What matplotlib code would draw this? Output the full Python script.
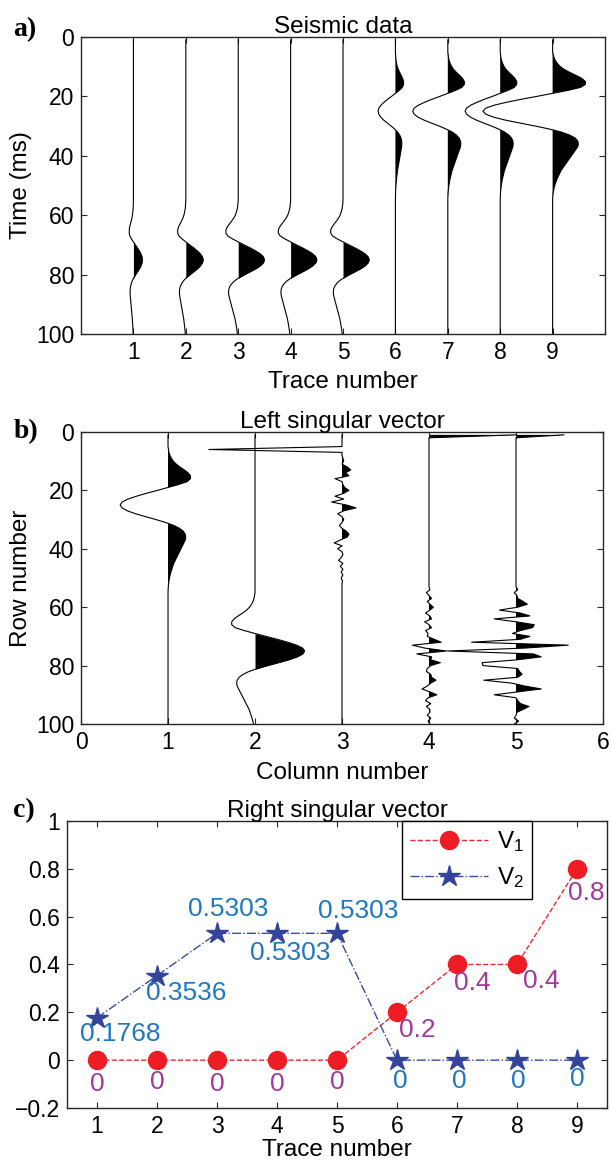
import numpy as np
import matplotlib.pyplot as plt

plt.rcParams['font.family'] = ['Liberation Sans', 'DejaVu Sans']
plt.rcParams['mathtext.fontset'] = 'custom'
plt.rcParams['mathtext.rm'] = 'Liberation Sans'
plt.rcParams['axes.edgecolor'] = '#262626'
plt.rcParams['xtick.color'] = '#262626'
plt.rcParams['ytick.color'] = '#262626'

rows = np.arange(1, 101)  # sample index = time in ms / row number

# source wavelet, 1 ms steps, peak at lag 0
wavelet_lag = np.arange(-20, 31)
wavelet = [0.0, -0.01, -0.02, -0.04, -0.07, -0.11, -0.17, -0.25, -0.34, -0.42,
           -0.47, -0.47, -0.40, -0.22, 0.0, 0.22, 0.45, 0.66, 0.84, 0.96,
           1.0,
           0.96, 0.85, 0.68, 0.47, 0.25, 0.05, -0.12, -0.24, -0.32, -0.36,
           -0.37, -0.36, -0.33, -0.30, -0.27, -0.24, -0.21, -0.18, -0.15, -0.12,
           -0.10, -0.08, -0.06, -0.045, -0.03, -0.02, -0.012, -0.006, -0.002, 0.0]

# a) seismic data: two events
trace_numbers = np.arange(1, 10)
late_event_ms = 75
early_event_ms = 25
late_amp = [0.17, 0.33, 0.50, 0.50, 0.50, 0, 0, 0, 0]
early_amp = [0, 0, 0, 0, 0, -0.33, -0.67, -0.67, -1.33]

# b) left singular vectors
column_numbers = np.arange(1, 6)
u1_amp = -0.55   # event at 25
u2_amp = 0.57    # event at 75
u3_spike_row, u3_spike = 6, -1.53
u3_noise_rows = np.arange(7, 53)
u3_noise = [0.0, 0.0, 0.01, 0.02, 0.0, 0.06, 0.10, 0.04, 0.08, -0.08,
            0.0, 0.01, 0.03, 0.08, 0.02, -0.08, 0.02, -0.12, 0.05, 0.16,
            0.02, -0.05, 0.0, 0.02, 0.0, -0.03, 0.0, 0.05, 0.08, 0.06,
            -0.02, -0.09, 0.0, -0.05, 0.0, 0.01, -0.01, -0.04, 0.01, -0.02,
            0.01, -0.01, 0.01, -0.01, 0.005, 0.0]
u4_spike_row, u4_spike = 1, 1.0
u4_noise_rows = np.arange(53, 101)
u4_noise = [0.0, 0.01, -0.03, 0.0, 0.03, -0.02, 0.01, 0.05, 0.01, -0.04,
            0.01, 0.03, -0.05, 0.0, 0.03, -0.04, -0.01, -0.02, 0.06, 0.14,
            -0.19, -0.05, 0.20, -0.14, 0.03, 0.02, 0.13, 0.02, -0.02, -0.03,
            0.02, 0.03, 0.08, 0.02, -0.02, -0.08, 0.01, 0.09, -0.01, -0.04,
            0.02, -0.03, 0.01, 0.01, -0.02, 0.02, -0.01, 0.01]
u5_spike_row, u5_spike = 1, 0.55
u5_noise_rows = np.arange(53, 101)
u5_noise = [0.0, 0.02, -0.02, 0.01, 0.02, 0.08, 0.13, 0.02, -0.19, 0.05,
            0.16, -0.25, 0.0, 0.21, 0.19, 0.05, -0.04, 0.16, 0.05, -0.51,
            0.60, 0.10, -0.79, 0.20, 0.29, 0.02, -0.39, -0.38, 0.02, 0.04,
            0.07, 0.02, -0.37, -0.05, 0.10, 0.29, 0.02, -0.25, 0.0, 0.02,
            0.05, 0.15, 0.08, 0.01, 0.0, -0.02, 0.03, -0.02]

# c) right singular vectors
v1 = [0, 0, 0, 0, 0, 0.2, 0.4, 0.4, 0.8]
v2 = [0.1768, 0.3536, 0.5303, 0.5303, 0.5303, 0, 0, 0, 0]
v1_text = ['0', '0', '0', '0', '0', '0.2', '0.4', '0.4', '0.8']
v2_text = ['0.1768', '0.3536', '0.5303', '0.5303', '0.5303', '0', '0', '0', '0']
ytick_vals = [-0.2, 0, 0.2, 0.4, 0.6, 0.8, 1]
ytick_text = ['\u22120.2', '0', '0.2', '0.4', '0.6', '0.8', '1']

# label offsets (data units) for the value annotations
v1_off = [(0, -0.10), (0, -0.09), (0, -0.10), (0, -0.10), (0, -0.09),
          (0.34, -0.072), (0.26, -0.076), (0.41, -0.068), (0.15, -0.10)]
v2_off = [(0.38, -0.069), (0.49, -0.074), (0.18, 0.10), (0.22, -0.082),
          (0.36, 0.095), (0.05, -0.086), (0.03, -0.086), (0.02, -0.086), (0, -0.08)]

FS = 17.5
TFS = 16.5


def place(center, amp):
    return amp * np.interp(rows - center, wavelet_lag, wavelet, left=0, right=0)


def wiggle(ax, base, vals):
    x = base + vals
    ax.fill_betweenx(rows, base, x, where=vals > 0, interpolate=True,
                     color='k', lw=0)
    ax.plot(x, rows, color='k', lw=0.8)


def style(ax):
    ax.tick_params(direction='in', top=True, right=True, length=4.5,
                   width=0.8, labelsize=TFS, pad=5, labelcolor='k')
    for s in ax.spines.values():
        s.set_linewidth(1.0)


fig = plt.figure(figsize=(6.11, 11.64), dpi=100)
ax_a = fig.add_axes([0.1326, 0.7131, 0.8576, 0.2552])
ax_b = fig.add_axes([0.1326, 0.3780, 0.8543, 0.2509])
ax_c = fig.add_axes([0.1097, 0.0481, 0.8838, 0.2466])

# ---- a) seismic data
for n, la, ea in zip(trace_numbers, late_amp, early_amp):
    tr = place(late_event_ms, la) + place(early_event_ms, ea)
    wiggle(ax_a, n, tr)
ax_a.set_xlim(0, 10)
ax_a.set_ylim(100, 0)
ax_a.set_xticks(trace_numbers)
ax_a.set_yticks(np.arange(0, 101, 20))
ax_a.set_title('Seismic data', fontsize=FS, pad=3)
ax_a.set_xlabel('Trace number', fontsize=FS, labelpad=5)
ax_a.set_ylabel('Time (ms)', fontsize=FS, labelpad=3)
style(ax_a)

# ---- b) left singular vectors
u = []
u.append(place(early_event_ms, u1_amp))
u.append(place(late_event_ms, u2_amp))
c3 = np.zeros(len(rows))
c3[rows == u3_spike_row] = u3_spike
c3[np.isin(rows, u3_noise_rows)] = u3_noise
u.append(c3)
c4 = np.zeros(len(rows))
c4[rows == u4_spike_row] = u4_spike
c4[np.isin(rows, u4_noise_rows)] = u4_noise
u.append(c4)
c5 = np.zeros(len(rows))
c5[rows == u5_spike_row] = u5_spike
c5[np.isin(rows, u5_noise_rows)] = u5_noise
u.append(c5)
for n, col in zip(column_numbers, u):
    wiggle(ax_b, n, col)
ax_b.set_xlim(0, 6)
ax_b.set_ylim(100, 0)
ax_b.set_xticks(np.arange(0, 7))
ax_b.set_yticks(np.arange(0, 101, 20))
ax_b.set_title('Left singular vector', fontsize=FS, pad=3)
ax_b.set_xlabel('Column number', fontsize=FS, labelpad=6)
ax_b.set_ylabel('Row number', fontsize=FS, labelpad=3)
style(ax_b)

# ---- c) right singular vectors
ax_c.plot(trace_numbers, v1, ls='--', color='#ee2a2a', lw=1.0, marker='o',
          ms=13, mfc='#ee1c25', mec='#ee1c25', label=r'$\mathregular{V_1}$')
ax_c.plot(trace_numbers, v2, ls='-.', color='#3a4ba0', lw=1.0, marker='*',
          ms=16, mfc='#34449c', mec='#34449c', label=r'$\mathregular{V_2}$')
for n, y, s, (dx, dy) in zip(trace_numbers, v1, v1_text, v1_off):
    ax_c.text(n + dx, y + dy, s, color='#a03a9c', fontsize=19,
              ha='center', va='center')
for n, y, s, (dx, dy) in zip(trace_numbers, v2, v2_text, v2_off):
    ax_c.text(n + dx, y + dy, s, color='#1f78c1', fontsize=19,
              ha='center', va='center')
ax_c.set_xlim(0.5, 9.5)
ax_c.set_ylim(-0.2, 1)
ax_c.set_xticks(trace_numbers)
ax_c.set_yticks(ytick_vals)
ax_c.set_yticklabels(ytick_text)
ax_c.set_title('Right singular vector', fontsize=FS, pad=3)
ax_c.set_xlabel('Trace number', fontsize=FS, labelpad=1)
style(ax_c)
leg = ax_c.legend(loc='upper left', bbox_to_anchor=(0.62, 1.0), fontsize=FS,
                  handlelength=3.2, fancybox=False, framealpha=1,
                  edgecolor='k', borderpad=0.35, labelspacing=0.45,
                  borderaxespad=0, handletextpad=0.35)
leg.get_frame().set_linewidth(1.0)

for lab, ypix in (('a)', 30), ('b)', 432), ('c)', 811)):
    fig.text(0.022, 1 - ypix / 1164, lab, family='Liberation Serif',
             weight='bold', fontsize=20, va='center', ha='left')

fig.savefig('out.png', dpi=100)
